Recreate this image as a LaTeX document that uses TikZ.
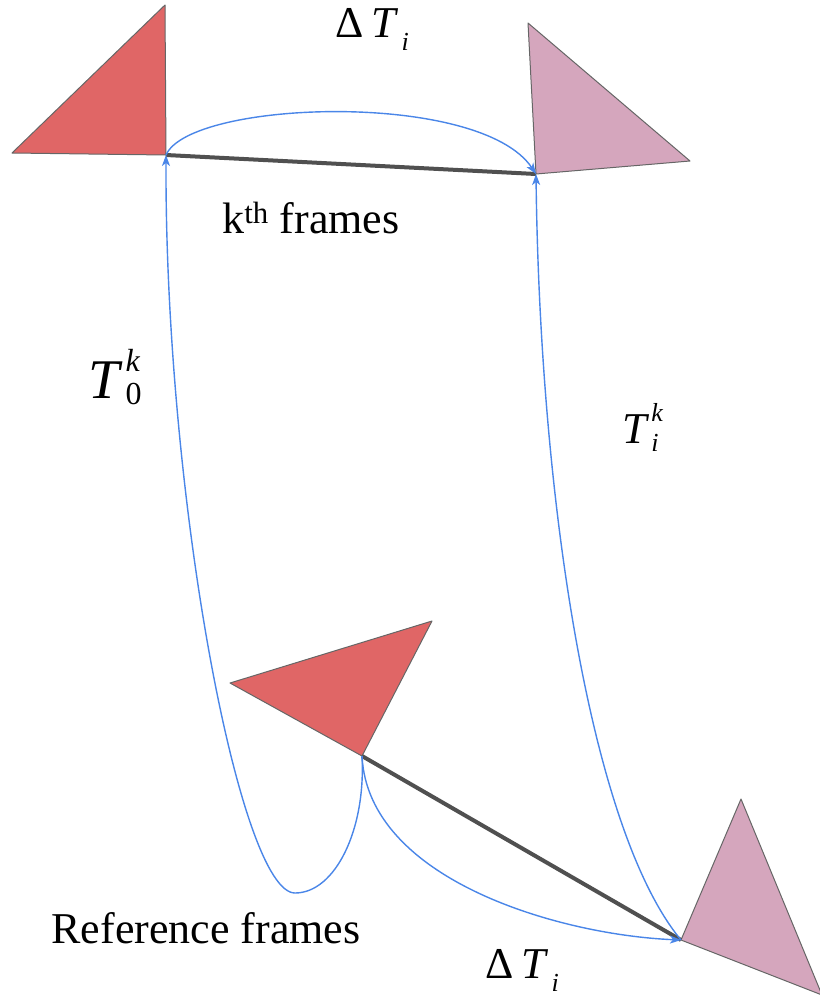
\documentclass[tikz,border=0pt]{standalone}
\usepackage{fontspec}
\setmainfont{Liberation Serif}
\usepackage{tikz}
\usetikzlibrary{arrows.meta}
\definecolor{framered}{HTML}{E06666}
\definecolor{framepink}{HTML}{D5A6BD}
\definecolor{edgegray}{HTML}{666666}
\definecolor{linkgray}{HTML}{505050}
\definecolor{tblue}{HTML}{4A86E8}
\newcommand\idx[1]{{\fontsize{26}{26}\selectfont #1}}
\newcommand\supsub[2]{\rlap{\raisebox{0.5em}{\idx{#1}}}\raisebox{-0.2em}{\idx{#2}}}
\tikzset{
  redtri/.style={draw=edgegray, fill=framered, line width=1pt, line join=round},
  pinktri/.style={draw=edgegray, fill=framepink, line width=1pt, line join=round},
  link/.style={draw=linkgray, line width=4pt},
  arr/.style={-{Stealth[length=11pt, width=8pt, inset=3pt]}, draw=tblue, line width=1.4pt},
  txt/.style={font=\fontsize{44}{54}\selectfont, inner sep=0pt},
  mth/.style={font=\fontsize{44}{52}\selectfont, inner sep=0pt, anchor=base west}
}
\begin{document}
\begin{tikzpicture}[x=1pt, y=-1pt]
\useasboundingbox (0,0) rectangle (820,997);
% frame corners
\coordinate (k0) at (166,155);
\coordinate (ki) at (536,174);
\coordinate (r0) at (362,756);
\coordinate (ri) at (681,940);
% frames
\draw[redtri] (165,5) -- (12,153) -- (k0) -- cycle;
\draw[pinktri] (528,23) -- (ki) -- (690,161) -- cycle;
\draw[redtri] (230,683) -- (432,621) -- (r0) -- cycle;
\draw[pinktri] (741,799) -- (ri) -- (822,995) -- cycle;
% links between frames
\draw[link] (k0) -- (ki);
\draw[link] (r0) -- (ri);
% transforms
\draw[arr] (k0) .. controls (190,100) and (480,90) .. (ki);
\draw[arr] (r0) .. controls (366,830) and (335,893) .. (295,893)
  .. controls (240,893) and (165,500) .. (k0);
\draw[arr] (ri) .. controls (590,830) and (540,500) .. (ki);
\draw[arr] (r0) .. controls (368,880) and (560,935) .. (ri);
% labels
\node[mth] (dtop) at (335,37) {Δ\kern8pt\textit{T}\kern3pt\raisebox{-0.3em}{\idx{\textit{i}}}};
\node[txt, anchor=base] (kfr) at (311,233) {k\textsuperscript{th} frames};
\node[mth, font=\fontsize{56}{60}\selectfont] (t0) at (88,398)
  {\textit{T}\kern3pt\rlap{\raisebox{0.48em}{\fontsize{32}{32}\selectfont\textit{k}}}\raisebox{-0.12em}{\fontsize{32}{32}\selectfont 0}};
\node[mth] (ti) at (622,443) {\textit{T}\kern2pt\supsub{\textit{k}}{\textit{i}}};
\node[txt, anchor=base] (rfr) at (206,943) {Reference frames};
\node[mth] (dbot) at (485,978) {Δ\kern8pt\textit{T}\kern3pt\raisebox{-0.3em}{\idx{\textit{i}}}};
\end{tikzpicture}
\end{document}
